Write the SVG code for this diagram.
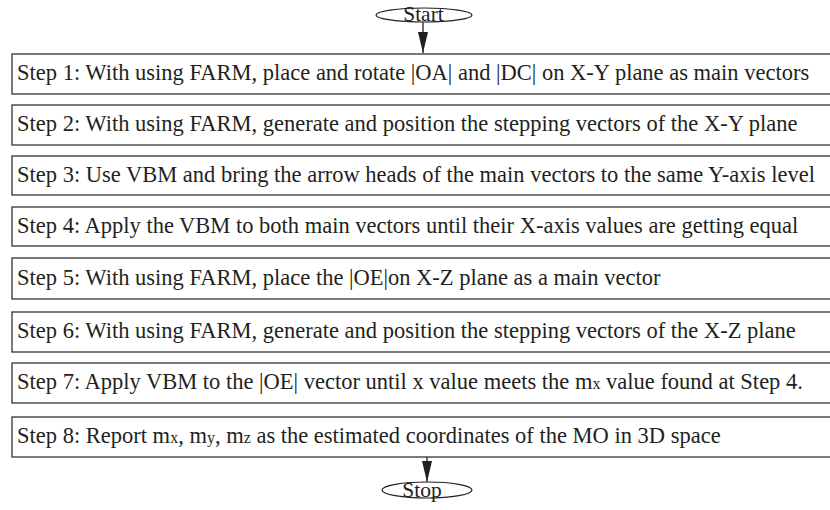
<svg xmlns="http://www.w3.org/2000/svg" width="830" height="510" viewBox="0 0 830 510">
<defs>
<style>
.box{fill:#fff;stroke:#333;stroke-width:1.3}
.t{font-family:"Liberation Serif","Times New Roman",serif;font-size:22.5px;fill:#231f20}
.term{fill:#fff;stroke:#231f20;stroke-width:1.2}
.tt{font-family:"Liberation Serif","Times New Roman",serif;font-size:21.5px;fill:#231f20;text-anchor:middle}
.sub{font-size:16px}
.c{stroke:#231f20;stroke-width:1.3;fill:none}
</style>
<marker id="ah" markerUnits="userSpaceOnUse" markerWidth="21" markerHeight="10" refX="21" refY="5" orient="auto" viewBox="0 0 21 10">
<path d="M0,0 L21,5 L0,10 Z" fill="#231f20"/>
</marker>
</defs>
<rect width="830" height="510" fill="#fff"/>
<g id="connectors">
<line class="c" x1="423" y1="22" x2="423" y2="53" marker-end="url(#ah)"/>
<line class="c" x1="427" y1="457" x2="427" y2="482" marker-end="url(#ah)"/>
</g>
<g id="start">
<ellipse class="term" cx="424" cy="15" rx="48" ry="7"/>
<text class="tt" x="423.5" y="21">Start</text>
</g>
<g id="step1">
<rect class="box" x="12" y="54" width="830" height="40"/>
<text class="t" x="17" y="80">Step 1: With using FARM, place and rotate |OA| and |DC| on X-Y plane as main vectors</text>
</g>
<g id="step2">
<rect class="box" x="12" y="105" width="830" height="40"/>
<text class="t" x="17" y="131">Step 2: With using FARM, generate and position the stepping vectors of the X-Y plane</text>
</g>
<g id="step3">
<rect class="box" x="12" y="156" width="830" height="39"/>
<text class="t" x="17" y="182">Step 3: Use VBM and bring the arrow heads of the main vectors to the same Y-axis level</text>
</g>
<g id="step4">
<rect class="box" x="12" y="207" width="830" height="39"/>
<text class="t" x="17" y="233">Step 4: Apply the VBM to both main vectors until their X-axis values are getting equal</text>
</g>
<g id="step5">
<rect class="box" x="12" y="258" width="830" height="41"/>
<text class="t" x="17" y="285">Step 5: With using FARM, place the |OE|on X-Z plane as a main vector</text>
</g>
<g id="step6">
<rect class="box" x="12" y="312" width="830" height="40"/>
<text class="t" x="17" y="338">Step 6: With using FARM, generate and position the stepping vectors of the X-Z plane</text>
</g>
<g id="step7">
<rect class="box" x="12" y="363" width="830" height="40"/>
<text class="t" x="17" y="389">Step 7: Apply VBM to the |OE| vector until x value meets the m<tspan class="sub">x</tspan> value found at Step 4.</text>
</g>
<g id="step8">
<rect class="box" x="12" y="417" width="830" height="40"/>
<text class="t" x="17" y="443">Step 8: Report m<tspan class="sub">x</tspan>, m<tspan class="sub">y</tspan>, m<tspan class="sub">z</tspan> as the estimated coordinates of the MO in 3D space</text>
</g>
<g id="stop">
<ellipse class="term" cx="427" cy="490" rx="45" ry="8"/>
<text class="tt" x="422" y="497">Stop</text>
</g>
</svg>
